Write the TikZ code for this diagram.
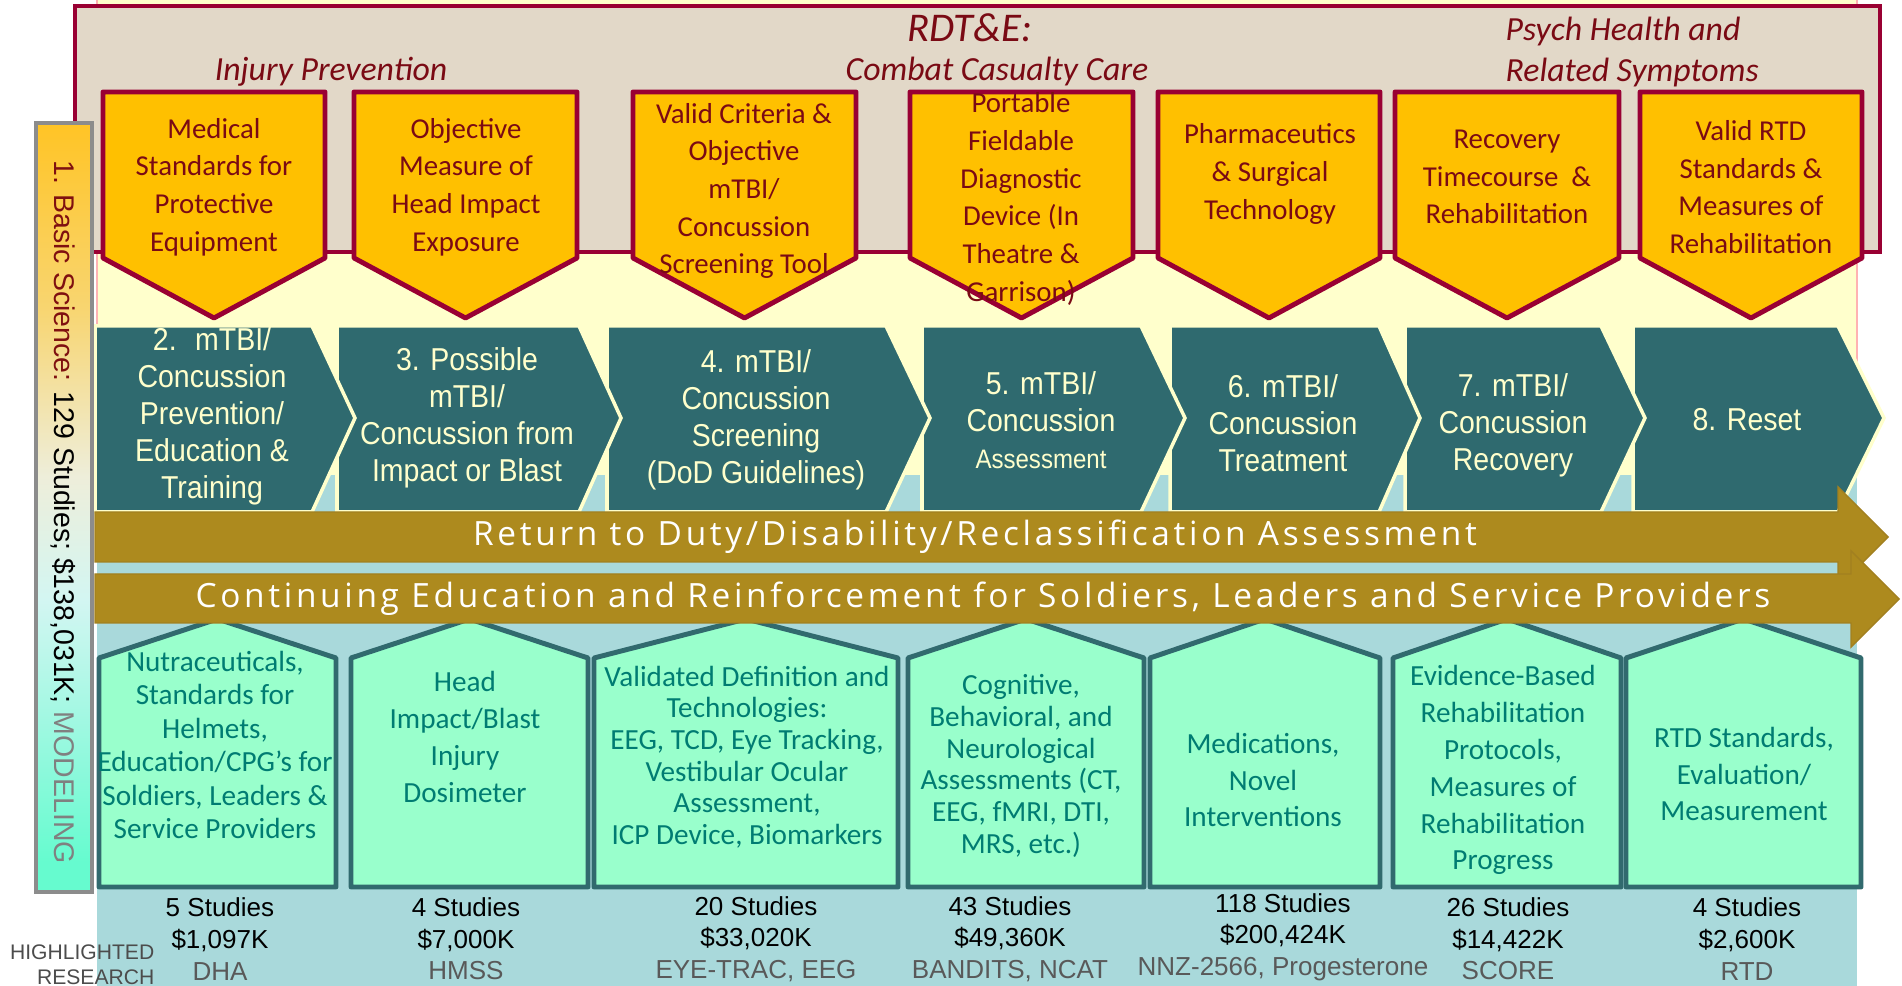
\documentclass[tikz,border=0pt]{standalone}
\usepackage{fontspec}
\setmainfont{Carlito}
\newfontfamily\narrowsans[FakeStretch=0.9]{Liberation Sans}
\newfontfamily\plainsans{Liberation Sans}
\newfontfamily\bandsans[LetterSpace=11]{Open Sans}
\definecolor{maroonline}{HTML}{990033}
\definecolor{headfill}{HTML}{E2D8C8}
\definecolor{tagfill}{HTML}{FFC000}
\definecolor{tagtext}{HTML}{7A0A14}
\definecolor{creambg}{HTML}{FFFFCC}
\definecolor{bluebg}{HTML}{A9D9DB}
\definecolor{stepfill}{HTML}{2F6A6F}
\definecolor{bandfill}{HTML}{AD8A1E}
\definecolor{bandline}{HTML}{A28020}
\definecolor{toolfill}{HTML}{99FFCC}
\definecolor{toolline}{HTML}{316A6E}
\definecolor{tooltextc}{HTML}{007C72}
\definecolor{barred}{HTML}{7F1010}
\definecolor{barA}{HTML}{66FBCF}
\definecolor{barB}{HTML}{D3F6F2}
\definecolor{barC}{HTML}{EEEEDA}
\definecolor{barD}{HTML}{F8D570}
\definecolor{barE}{HTML}{FFC425}
\pgfdeclareverticalshading{basicbar}{100bp}{color(0bp)=(barA); color(27bp)=(barA); color(44bp)=(barB); color(52bp)=(barC); color(63bp)=(barD); color(75bp)=(barE); color(100bp)=(barE)}
\newcommand{\goaltag}[2]{\draw[goal] (#1,92) -- (#2,92) -- (#2,258) -- ({(#1+#2)/2},318) -- (#1,258) -- cycle;}
\newcommand{\stepshape}[3]{\draw[stepbox] (#1,326) -- (#2,326) -- (#3,418) -- (#2,512) -- (#1,512) -- cycle;}
\newcommand{\toolhouse}[2]{\draw[tool] (#1,887) -- (#1,658) -- ({(#1+#2)/2},619) -- (#2,658) -- (#2,887) -- cycle;}
\begin{document}
\begin{tikzpicture}[x=0.01cm, y=-0.01cm,
        goal/.style={draw=maroonline, fill=tagfill, line width=1.4pt, line join=round},
        stepbox/.style={draw=creambg, fill=stepfill, line width=1pt},
        tool/.style={draw=toolline, fill=toolfill, line width=1.4pt, line join=round},
        band/.style={draw=bandline, fill=bandfill, line width=0.4pt},
        headtext/.style={inner sep=0pt, text=tagtext, font=\itshape\fontsize{9.6}{12}\selectfont},
        goaltext/.style={inner sep=0pt, align=center, text=tagtext, font=\fontsize{8.2}{10.7}\selectfont},
        steptext/.style={inner sep=0pt, align=center, text=creambg, font=\narrowsans\fontsize{9}{10.5}\selectfont},
        tooltext/.style={inner sep=0pt, align=center, text=tooltextc, font=\fontsize{8.3}{10.5}\selectfont},
        stattext/.style={inner sep=0pt, align=center, font=\plainsans\fontsize{7.4}{9}\selectfont},
        bandtext/.style={inner sep=0pt, text=white, font=\bandsans\fontsize{9.5}{11}\selectfont}]
                \useasboundingbox (0,0) rectangle (1902,986);
                \fill[creambg] (97,0) rectangle (1857,475);
                \draw[red!30, line width=0.3pt] (97,0) -- (97,475) (1857,0) -- (1857,475);
                \fill[bluebg] (97,475) rectangle (1857,986);

                \draw[maroonline, fill=headfill, line width=1.3pt] (75,6) rectangle (1880,252);
                \node[headtext, font=\itshape\fontsize{11.6}{13}\selectfont] (rdte) at (970,28) {RDT\&E:};
                \node[headtext] (care) at (997,72) {Combat Casualty Care};
                \node[headtext] (injury) at (331,72) {Injury Prevention};
                \node[headtext, align=left, anchor=west, font=\itshape\fontsize{9.6}{11.9}\selectfont] (psych) at (1505,52) {Psych Health and\\Related Symptoms};

                \goaltag{103}{325}
                \goaltag{354}{577}
                \goaltag{633}{856}
                \goaltag{910}{1133}
                \goaltag{1158}{1380}
                \goaltag{1395}{1619}
                \goaltag{1640}{1862}
                \node[goaltext] (goal1) at (214,187) {Medical\\Standards for\\Protective\\Equipment};
                \node[goaltext] (goal2) at (466,187) {Objective\\Measure of\\Head Impact\\Exposure};
                \node[goaltext] (goal3) at (744,191) {Valid Criteria \&\\Objective\\mTBI/\\Concussion\\Screening Tool};
                \node[goaltext] (goal4) at (1021,199) {Portable\\Fieldable\\Diagnostic\\Device (In\\Theatre \&\\Garrison)};
                \node[goaltext] (goal5) at (1270,174) {Pharmaceutics\\\& Surgical\\Technology};
                \node[goaltext] (goal6) at (1507,177) {Recovery\\Timecourse~ \&\\Rehabilitation};
                \node[goaltext] (goal7) at (1751,187) {Valid RTD\\Standards \&\\Measures of\\Rehabilitation};

                \stepshape{1633}{1838}{1884}
                \stepshape{1405}{1601}{1645}
                \stepshape{1170}{1379}{1420}
                \stepshape{922}{1141}{1185}
                \stepshape{607}{886}{930}
                \stepshape{337}{579}{621}
                \stepshape{95}{312}{355}
                \node[steptext] (step2) at (212,416) {2.~ mTBI/\\Concussion\\Prevention/\\Education \&\\Training};
                \node[steptext] (step3) at (467,418) {3. Possible\\mTBI/\\Concussion from\\Impact or Blast};
                \node[steptext] (step4) at (756,420) {4. mTBI/\\Concussion\\Screening\\(DoD Guidelines)};
                \node[steptext] (step5) at (1041,420) {5. mTBI/\\Concussion\\{\fontsize{7.6}{10.5}\selectfont Assessment}};
                \node[steptext] (step6) at (1283,423) {6. mTBI/\\Concussion\\Treatment};
                \node[steptext] (step7) at (1513,425) {7. mTBI/\\Concussion\\Recovery};
                \node[steptext] (step8) at (1747,420) {8. Reset};

                \toolhouse{99}{336}
                \toolhouse{351}{588}
                \toolhouse{594}{898}
                \toolhouse{908}{1144}
                \toolhouse{1150}{1380}
                \toolhouse{1393}{1621}
                \toolhouse{1626}{1861}

                \draw[band] (95,512) -- (1838,512) -- (1838,487) -- (1888,537) -- (1838,587) -- (1838,562) -- (95,562) -- cycle;
                \draw[band] (95,574) -- (1851,574) -- (1851,551) -- (1899,599) -- (1851,647) -- (1851,623) -- (95,623) -- cycle;
                \node[bandtext] (duty) at (975,537) {Return to Duty/Disability/Reclassification Assessment};
                \node[bandtext] (educ) at (983,599) {Continuing Education and Reinforcement for Soldiers, Leaders and Service Providers};

                \node[tooltext, font=\fontsize{8.3}{9.5}\selectfont] (tool1) at (215,745) {Nutraceuticals,\\Standards for\\Helmets,\\Education/CPG’s for\\Soldiers, Leaders \&\\Service Providers};
                \node[tooltext] (tool2) at (465,737) {Head\\Impact/Blast\\Injury\\Dosimeter};
                \node[tooltext, font=\fontsize{8.3}{9}\selectfont] (tool3) at (747,757) {Validated Definition and\\Technologies:\\EEG, TCD, Eye Tracking,\\Vestibular Ocular\\Assessment,\\ICP Device, Biomarkers};
                \node[tooltext, font=\fontsize{8.3}{9}\selectfont] (tool4) at (1021,766) {Cognitive,\\Behavioral, and\\Neurological\\Assessments (CT,\\EEG, fMRI, DTI,\\MRS, etc.)};
                \node[tooltext] (tool5) at (1263,780) {Medications,\\Novel\\Interventions};
                \node[tooltext] (tool6) at (1503,770) {Evidence-Based\\Rehabilitation\\Protocols,\\Measures of\\Rehabilitation\\Progress};
                \node[tooltext] (tool7) at (1744,774) {RTD Standards,\\Evaluation/\\Measurement};

                \node[stattext] (stat1) at (220,939) {5 Studies\\\$1,097K\\\textcolor{black!65}{DHA}};
                \node[stattext] (stat2) at (466,939) {4 Studies\\\$7,000K\\\textcolor{black!65}{HMSS}};
                \node[stattext] (stat3) at (756,939) {20 Studies\\\$33,020K\\\textcolor{black!65}{EYE-TRAC, EEG}};
                \node[stattext] (stat4) at (1010,939) {43 Studies\\\$49,360K\\\textcolor{black!65}{BANDITS, NCAT}};
                \node[stattext] (stat5) at (1283,937) {118 Studies\\\$200,424K\\\textcolor{black!65}{NNZ-2566, Progesterone}};
                \node[stattext] (stat6) at (1508,939) {26 Studies\\\$14,422K\\\textcolor{black!65}{SCORE}};
                \node[stattext] (stat7) at (1747,939) {4 Studies\\\$2,600K\\\textcolor{black!65}{RTD}};
                \node[inner sep=0pt, align=right, anchor=east, text=black!70, font=\plainsans\fontsize{6}{7}\selectfont] (highlight) at (155,965) {HIGHLIGHTED\\RESEARCH};

                \shadedraw[shading=basicbar, draw=black!45, line width=1pt] (36,123) rectangle (92,892);
                \node[rotate=-90, inner sep=0pt, font=\plainsans\fontsize{8.1}{10}\selectfont] (basic) at (63,512) {\textcolor{barred}{1. Basic Science:} 129 Studies; \$138,031K; \textcolor{black!50}{MODELING}};
            \end{tikzpicture}
\end{document}
